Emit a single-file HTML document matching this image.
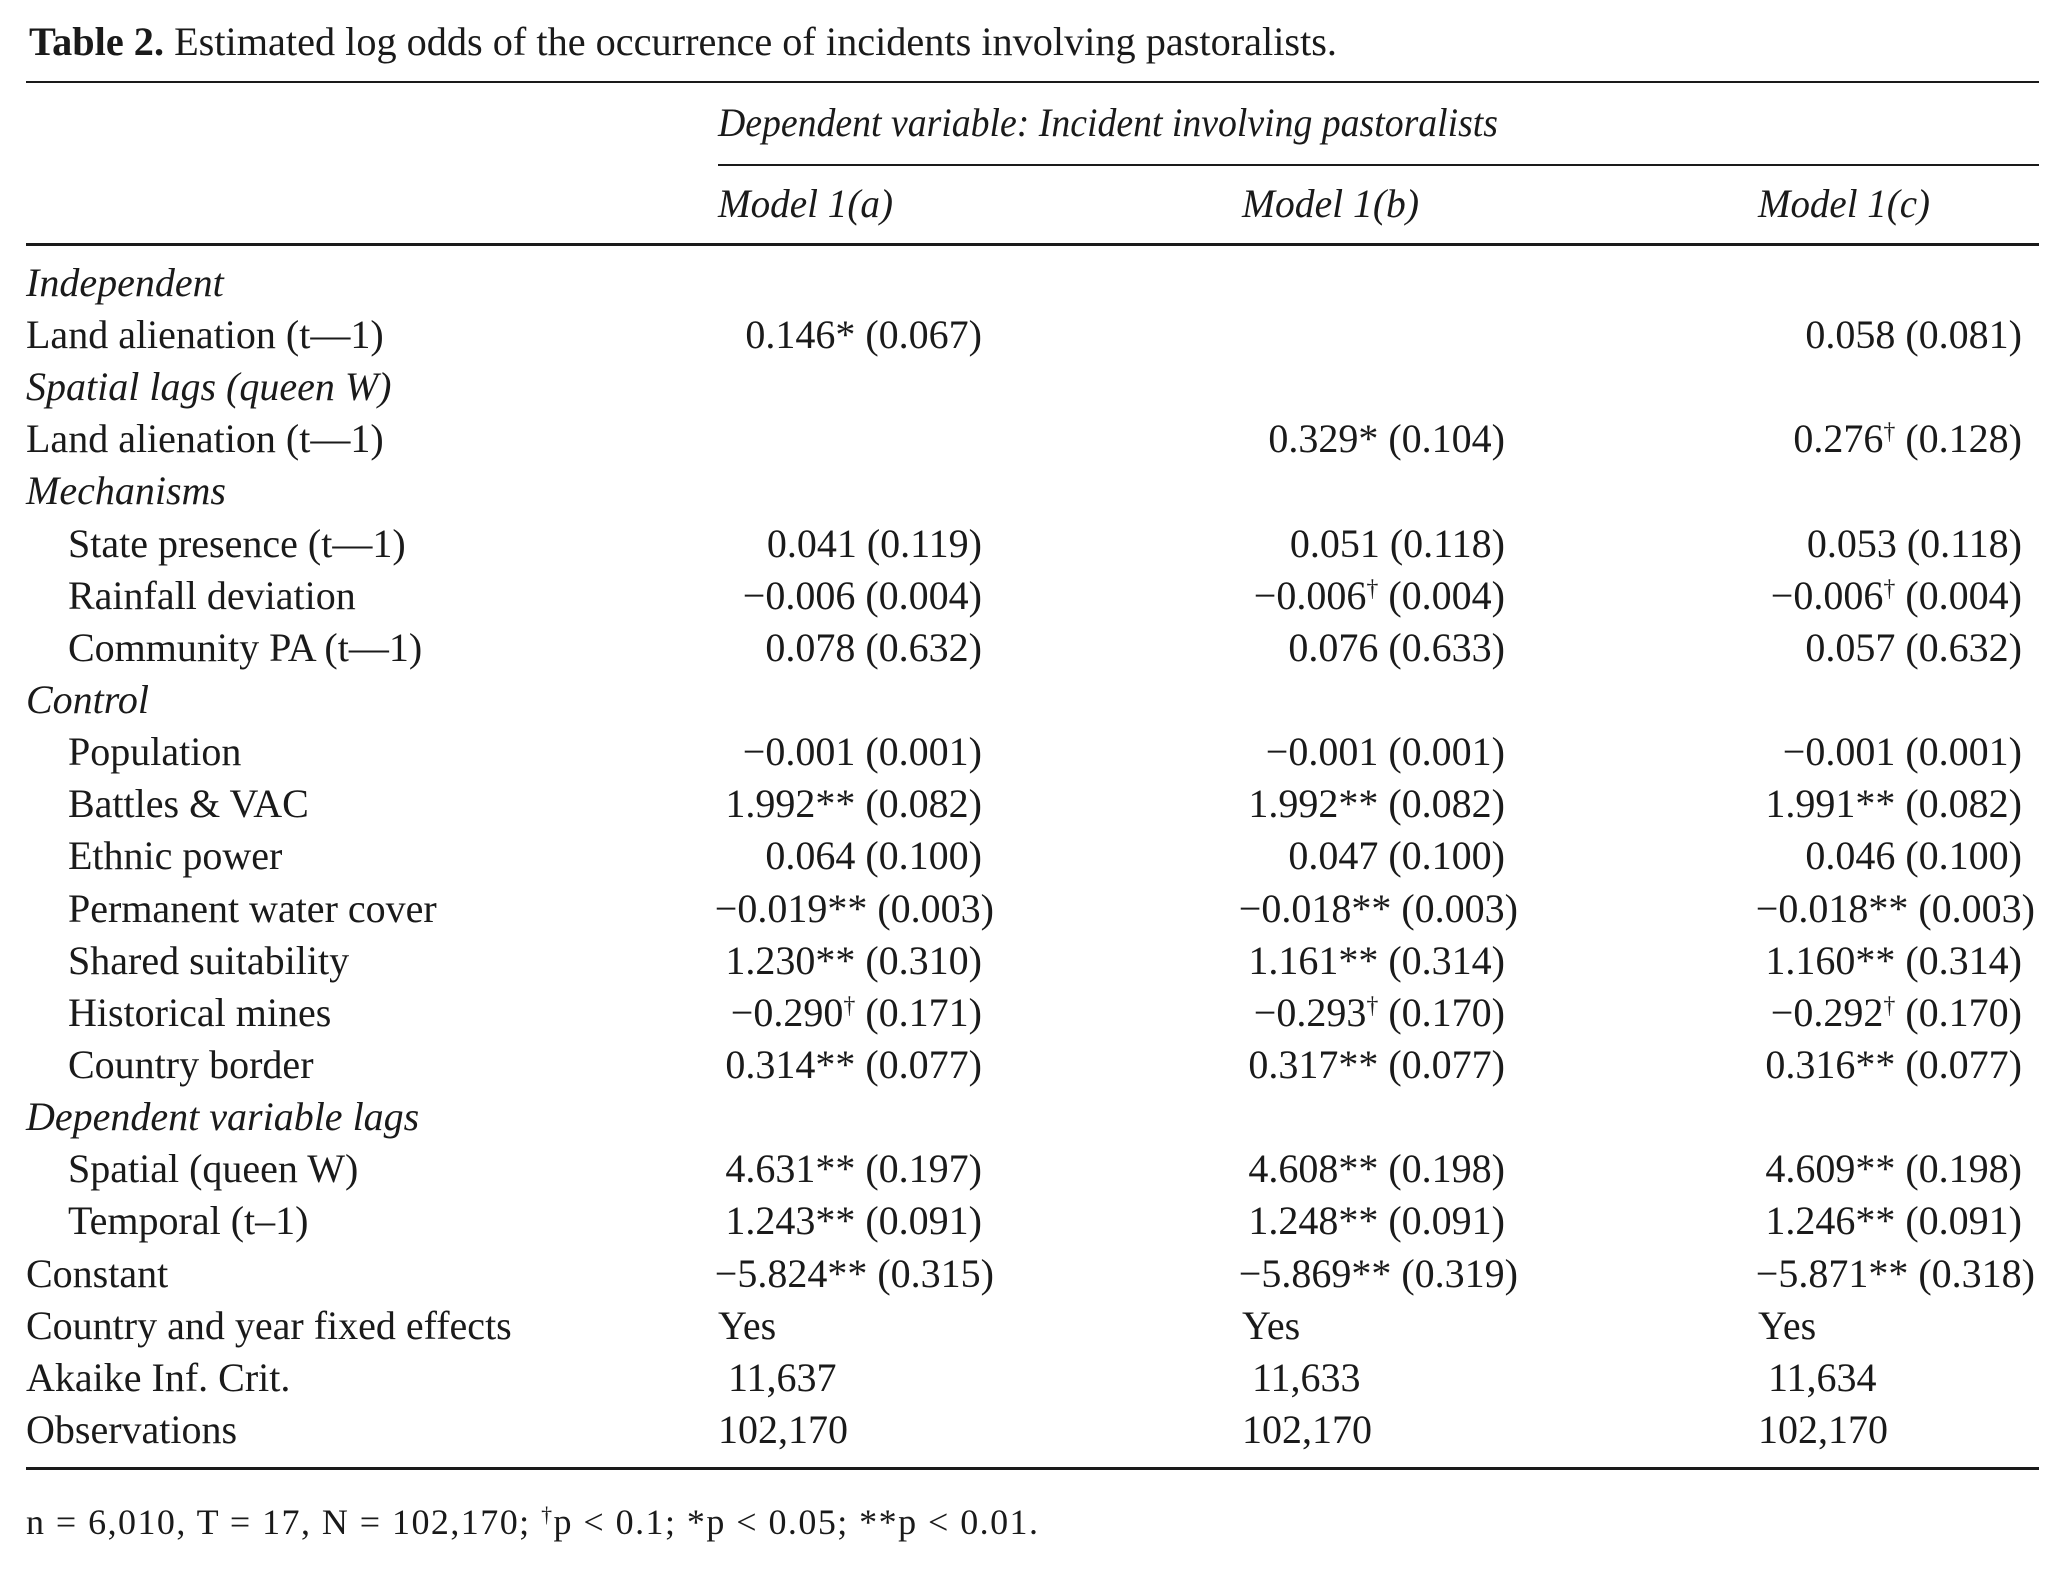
<!DOCTYPE html>
<html><head><meta charset="utf-8"><style>
html,body{margin:0;padding:0;background:#fff}
svg{display:block}
text{font-family:"Liberation Serif",serif;font-size:40px;fill:#1a1a1a}
.i{font-style:italic}
.r{text-anchor:end}
</style></head><body>
<svg width="2065" height="1571" viewBox="0 0 2065 1571" xmlns="http://www.w3.org/2000/svg">
<text x="29" y="55" textLength="1308" lengthAdjust="spacingAndGlyphs"><tspan font-weight="bold">Table 2.</tspan>  Estimated log odds of the occurrence of incidents involving pastoralists.</text>
<rect x="26" y="81" width="2013" height="2" fill="#1a1a1a"/>
<text x="718" y="136" class="i" textLength="780" lengthAdjust="spacingAndGlyphs">Dependent variable: Incident involving pastoralists</text>
<rect x="718" y="164" width="1321" height="2" fill="#1a1a1a"/>
<text x="718" y="217" class="i" textLength="175" lengthAdjust="spacingAndGlyphs">Model 1(a)</text>
<text x="1242" y="217" class="i" textLength="177" lengthAdjust="spacingAndGlyphs">Model 1(b)</text>
<text x="1758" y="217" class="i" textLength="172" lengthAdjust="spacingAndGlyphs">Model 1(c)</text>
<rect x="26" y="243" width="2013" height="3" fill="#1a1a1a"/>

<g>
<text x="26" y="296" class="i">Independent</text>
<text x="26" y="348">Land alienation (t—1)</text>
<text x="982" y="348" class="r">0.146* (0.067)</text>
<text x="2022" y="348" class="r">0.058 (0.081)</text>
<text x="26" y="400" class="i">Spatial lags (queen W)</text>
<text x="26" y="452">Land alienation (t—1)</text>
<text x="1505" y="452" class="r">0.329* (0.104)</text>
<text x="2022" y="452" class="r">0.276<tspan font-size="24" dy="-13">†</tspan><tspan dy="13"> (0.128)</tspan></text>
<text x="26" y="504" class="i">Mechanisms</text>
<text x="68" y="557">State presence (t—1)</text>
<text x="982" y="557" class="r">0.041 (0.119)</text>
<text x="1505" y="557" class="r">0.051 (0.118)</text>
<text x="2022" y="557" class="r">0.053 (0.118)</text>
<text x="68" y="609">Rainfall deviation</text>
<text x="982" y="609" class="r">−0.006 (0.004)</text>
<text x="1505" y="609" class="r">−0.006<tspan font-size="24" dy="-13">†</tspan><tspan dy="13"> (0.004)</tspan></text>
<text x="2022" y="609" class="r">−0.006<tspan font-size="24" dy="-13">†</tspan><tspan dy="13"> (0.004)</tspan></text>
<text x="68" y="661">Community PA (t—1)</text>
<text x="982" y="661" class="r">0.078 (0.632)</text>
<text x="1505" y="661" class="r">0.076 (0.633)</text>
<text x="2022" y="661" class="r">0.057 (0.632)</text>
<text x="26" y="713" class="i">Control</text>
<text x="68" y="765">Population</text>
<text x="982" y="765" class="r">−0.001 (0.001)</text>
<text x="1505" y="765" class="r">−0.001 (0.001)</text>
<text x="2022" y="765" class="r">−0.001 (0.001)</text>
<text x="68" y="817">Battles &amp; VAC</text>
<text x="982" y="817" class="r">1.992** (0.082)</text>
<text x="1505" y="817" class="r">1.992** (0.082)</text>
<text x="2022" y="817" class="r">1.991** (0.082)</text>
<text x="68" y="869">Ethnic power</text>
<text x="982" y="869" class="r">0.064 (0.100)</text>
<text x="1505" y="869" class="r">0.047 (0.100)</text>
<text x="2022" y="869" class="r">0.046 (0.100)</text>
<text x="68" y="922">Permanent water cover</text>
<text x="994" y="922" class="r">−0.019** (0.003)</text>
<text x="1518" y="922" class="r">−0.018** (0.003)</text>
<text x="2035" y="922" class="r">−0.018** (0.003)</text>
<text x="68" y="974">Shared suitability</text>
<text x="982" y="974" class="r">1.230** (0.310)</text>
<text x="1505" y="974" class="r">1.161** (0.314)</text>
<text x="2022" y="974" class="r">1.160** (0.314)</text>
<text x="68" y="1026">Historical mines</text>
<text x="982" y="1026" class="r">−0.290<tspan font-size="24" dy="-13">†</tspan><tspan dy="13"> (0.171)</tspan></text>
<text x="1505" y="1026" class="r">−0.293<tspan font-size="24" dy="-13">†</tspan><tspan dy="13"> (0.170)</tspan></text>
<text x="2022" y="1026" class="r">−0.292<tspan font-size="24" dy="-13">†</tspan><tspan dy="13"> (0.170)</tspan></text>
<text x="68" y="1078">Country border</text>
<text x="982" y="1078" class="r">0.314** (0.077)</text>
<text x="1505" y="1078" class="r">0.317** (0.077)</text>
<text x="2022" y="1078" class="r">0.316** (0.077)</text>
<text x="26" y="1130" class="i">Dependent variable lags</text>
<text x="68" y="1182">Spatial (queen W)</text>
<text x="982" y="1182" class="r">4.631** (0.197)</text>
<text x="1505" y="1182" class="r">4.608** (0.198)</text>
<text x="2022" y="1182" class="r">4.609** (0.198)</text>
<text x="68" y="1234">Temporal (t–1)</text>
<text x="982" y="1234" class="r">1.243** (0.091)</text>
<text x="1505" y="1234" class="r">1.248** (0.091)</text>
<text x="2022" y="1234" class="r">1.246** (0.091)</text>
<text x="26" y="1287">Constant</text>
<text x="994" y="1287" class="r">−5.824** (0.315)</text>
<text x="1518" y="1287" class="r">−5.869** (0.319)</text>
<text x="2035" y="1287" class="r">−5.871** (0.318)</text>
<text x="26" y="1339">Country and year fixed effects</text>
<text x="718" y="1339">Yes</text>
<text x="1242" y="1339">Yes</text>
<text x="1758" y="1339">Yes</text>
<text x="26" y="1391">Akaike Inf. Crit.</text>
<text x="728" y="1391">11,637</text>
<text x="1252" y="1391">11,633</text>
<text x="1768" y="1391">11,634</text>
<text x="26" y="1443">Observations</text>
<text x="718" y="1443">102,170</text>
<text x="1242" y="1443">102,170</text>
<text x="1758" y="1443">102,170</text>
</g>
<rect x="26" y="1467" width="2013" height="3" fill="#1a1a1a"/>
<text x="26" y="1534" style="font-size:36px" textLength="1012" lengthAdjust="spacing">n = 6,010, T = 17, N = 102,170; <tspan font-size="22" dy="-12">†</tspan><tspan dy="12">p &lt; 0.1; *p &lt; 0.05; **p &lt; 0.01.</tspan></text>
</svg>
</body></html>
